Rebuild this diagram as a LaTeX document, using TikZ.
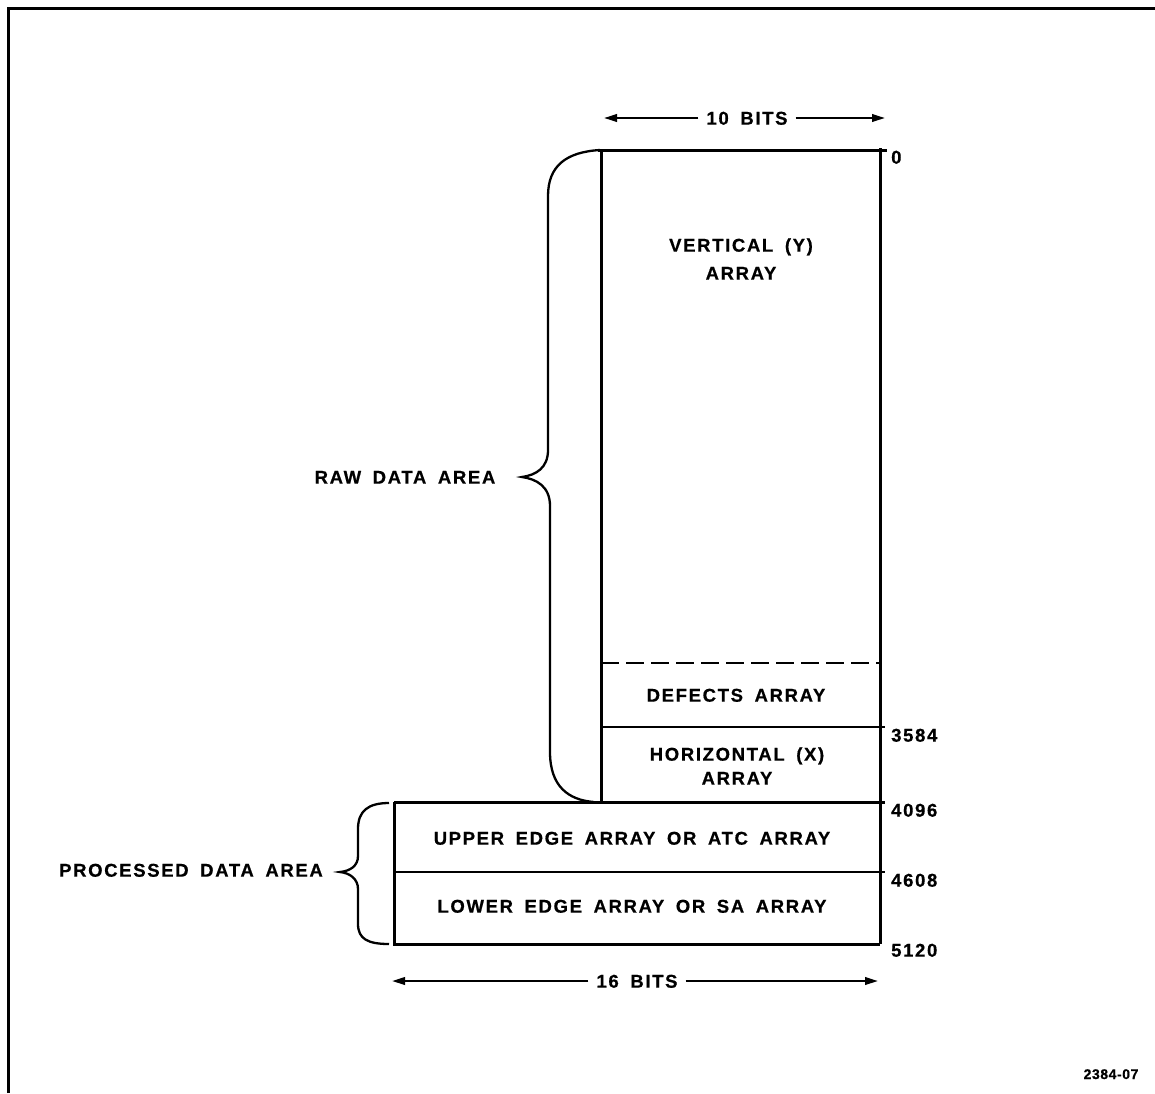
\documentclass[tikz,border=0pt]{standalone}
\usepackage{fontspec}
\setmainfont{Liberation Sans}
\newfontfamily\labfont{Liberation Sans}[LetterSpace=9,WordSpace=1.7,BoldFeatures={FakeBold=0.6}]
\newfontfamily\tagfont{Liberation Sans}[LetterSpace=4,BoldFeatures={FakeBold=0.6}]
\usetikzlibrary{arrows.meta}
\begin{document}
\begin{tikzpicture}[x=1pt,y=-1pt,
  lbl/.style={font=\labfont\bfseries\fontsize{18.5}{21}\selectfont, inner sep=0pt, text height=13.3pt, text depth=0pt},
  num/.style={lbl, anchor=west},
  heavy/.style={line width=3pt},
  medium/.style={line width=2.8pt},
  bracepath/.style={line width=2.3pt},
  arr/.style={line width=2.2pt, -{Triangle[length=13pt,width=7.5pt]}, shorten <=8pt},
  dashline/.style={line width=2.8pt, dash pattern=on 18pt off 7pt}]
\useasboundingbox (0,0) rectangle (1155,1093);
% frame (left and top only)
\draw[heavy] (8,1093) -- (8,8) -- (1155,8);

% memory column coordinates
\coordinate (ctl) at (601,150);
\coordinate (ctr) at (880,150);
\coordinate (cbl) at (601,802);
\coordinate (bl) at (394,802);
\coordinate (blb) at (394,944);
\coordinate (brb) at (880,944);

% column outline
\draw[heavy] (598,150) -- (887,150);
\draw[heavy] (ctl) -- (cbl);
\draw[heavy] (880,148) -- (brb);
\draw[dashline] (601,663) -- (880,663);
\draw[medium] (601,727) -- (885,727);
\draw[heavy] (bl) -- (885,802);
\draw[medium] (394,872) -- (885,872);
\draw[heavy] (bl) -- (blb) -- (brb);

% texts inside
\node[lbl] (vy) at (741,245) {VERTICAL (Y)};
\node[lbl] (vy2) at (741,273) {ARRAY};
\node[lbl] (def) at (736,695) {DEFECTS ARRAY};
\node[lbl] (hx) at (737,754) {HORIZONTAL (X)};
\node[lbl] (hx2) at (737,778) {ARRAY};
\node[lbl] (up) at (632,838) {UPPER EDGE ARRAY OR ATC ARRAY};
\node[lbl] (lo) at (632,906) {LOWER EDGE ARRAY OR SA ARRAY};

% addresses
\node[num] (n0) at (891,157) {0};
\node[num] (n3584) at (891,735) {3584};
\node[num] (n4096) at (891,810) {4096};
\node[num] (n4608) at (891,880) {4608};
\node[num] (n5120) at (891,950) {5120};

% width arrows
\node[lbl] (t10) at (747,118) {10 BITS};
\coordinate (a10l) at (604,118);
\coordinate (a10r) at (885,118);
\draw[arr] (t10) -- (a10l);
\draw[arr] (t10) -- (a10r);
\node[lbl] (t16) at (637,981) {16 BITS};
\coordinate (a16l) at (392,981);
\coordinate (a16r) at (878,981);
\draw[arr] (t16) -- (a16l);
\draw[arr] (t16) -- (a16r);

% braces
\draw[bracepath] (600,150) .. controls (566,152) and (548,166) .. (548,196)
  -- (548,450) .. controls (548,468) and (536,475) .. (522,477)
  .. controls (536,479) and (550,486) .. (550,506)
  -- (550,752) .. controls (550,786) and (568,800) .. (594,802);
\node[lbl] (raw) at (405,477) {RAW DATA AREA};

\draw[bracepath] (389,803) .. controls (368,803) and (358,811) .. (358,829)
  -- (358,856) .. controls (358,866) and (350,871) .. (340,872)
  .. controls (350,873) and (358,879) .. (358,889)
  -- (358,924) .. controls (358,939) and (368,944) .. (389,944);
\node[lbl] (proc) at (191,870) {PROCESSED DATA AREA};

% figure tag
\node[font=\tagfont\bfseries\fontsize{14}{16}\selectfont, inner sep=0pt, text height=10pt, text depth=0pt] (tag) at (1111,1074) {2384-07};
\end{tikzpicture}
\end{document}
